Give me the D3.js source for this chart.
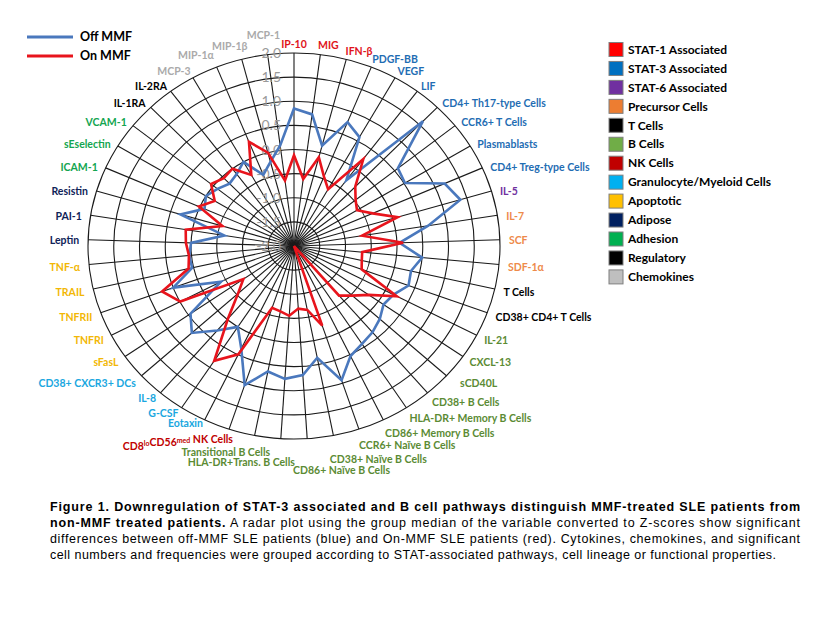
<!DOCTYPE html>
<html>
<head>
<meta charset="UTF-8">
<title>Radar - Off MMF vs On MMF</title>
<script src="https://d3js.org/d3.v7.min.js"></script>
<style>
  body { margin: 0; background: #fff; }
  text { font-family: Lato, "Open Sans", sans-serif; }
  .caption text { font-family: "Liberation Sans", Arial, sans-serif; }
</style>
</head>
<body>
<script>
// ---- data ----
var categories = [
  "IP-10", "MIG", "IFN-\u03b2", "PDGF-BB", "VEGF", "LIF", "CD4+ Th17-type Cells",
  "CCR6+ T Cells", "Plasmablasts", "CD4+ Treg-type Cells", "IL-5", "IL-7", "SCF",
  "SDF-1\u03b1", "T Cells", "CD38+ CD4+ T Cells", "IL-21", "CXCL-13", "sCD40L",
  "CD38+ B Cells", "HLA-DR+ Memory B Cells", "CD86+ Memory B Cells",
  "CCR6+ Na\u00efve B Cells", "CD38+ Na\u00efve B Cells", "CD86+ Na\u00efve B Cells",
  "HLA-DR+Trans. B Cells", "Transitional B Cells", "CD8{lo}CD56{med} NK Cells",
  "Eotaxin", "G-CSF", "IL-8", "CD38+ CXCR3+ DCs", "sFasL", "TNFRI", "TNFRII",
  "TRAIL", "TNF-\u03b1", "Leptin", "PAI-1", "Resistin", "ICAM-1", "sEselectin",
  "VCAM-1", "IL-1RA", "IL-2RA", "MCP-3", "MIP-1\u03b1", "MIP-1\u03b2", "MCP-1"
];

var categoryGroup = [
  "stat1", "stat1", "stat1", "stat3", "stat3", "stat3", "stat3", "stat3", "stat3", "stat3",
  "stat6", "prec", "prec", "prec", "tcell", "tcell",
  "bcell", "bcell", "bcell", "bcell", "bcell", "bcell", "bcell", "bcell", "bcell", "bcell", "bcell",
  "nk", "gran", "gran", "gran", "gran", "apop", "apop", "apop", "apop", "apop",
  "adip", "adip", "adip", "adh", "adh", "adh", "reg", "reg", "chem", "chem", "chem", "chem"
];

var offMMF = [
  0.85, 0.75, 0.15, 0.77, 0.59, -0.30, 1.60, 0.58, 0.52, 1.20,
  1.37, 0.64, 0.05, 0.50, 0.33, 0.37, 0.18, 0.12, 0.25, 0.35,
  0.42, 0.53, 0.93, 0.36, 0.68, 0.76, 0.65, 1.04, 0.36, 0.00,
  0.30, 0.68, 0.45, -0.40, 0.50, 0.03, 0.04, 0.00, -0.63, 0.30,
  -0.10, 0.00, -0.10, -0.20, -0.14, 0.00, -0.41, -0.20, 0.10
];

var onMMF = [
  -0.12, -0.60, -0.10, -0.45, -0.65, 0.25, -0.29, -0.47, -0.57, -0.33,
  0.10, -0.66, 0.12, -0.67, -0.65, -0.60, 0.25, -0.23, -0.47, -0.65,
  -2.00, -2.00, -0.26, -0.65, -0.70, -0.55, -0.62, -0.65, 0.49, 0.84,
  -0.02, -0.53, -0.80, 0.49, 0.73, 0.10, 0.05, 0.10, 0.13, -0.55,
  0.02, -0.20, 0.06, -0.04, 0.00, -0.31, 0.33, 0.00, -0.63
];

var ringTicks = [2.0, 1.5, 1.0, 0.5, 0.0, -0.5, -1.0, -1.5, -2.0];

var legendKeys = ["stat1", "stat3", "stat6", "prec", "tcell", "bcell", "nk", "gran", "apop", "adip", "adh", "reg", "chem"];
var legendNames = ["STAT-1 Associated", "STAT-3 Associated", "STAT-6 Associated", "Precursor Cells",
  "T Cells", "B Cells", "NK Cells", "Granulocyte/Myeloid Cells", "Apoptotic", "Adipose",
  "Adhesion", "Regulatory", "Chemokines"];

var seriesNames = ["Off MMF", "On MMF"];

var captionLines = [
  [["Figure 1. Downregulation of STAT-3 associated and B cell pathways distinguish MMF-treated SLE patients from", true]],
  [["non-MMF treated patients.", true], [" A radar plot using the group median of the variable converted to Z-scores show significant", false]],
  [["differences between off-MMF SLE patients (blue) and On-MMF SLE patients (red). Cytokines, chemokines, and significant", false]],
  [["cell numbers and frequencies were grouped according to STAT-associated pathways, cell lineage or functional properties.", false]]
];

// ---- styles ----
var squareColor = {
  stat1: "#ff0000", stat3: "#0070c0", stat6: "#7030a0", prec: "#ed7d31", tcell: "#000000",
  bcell: "#70ad47", nk: "#c00000", gran: "#00b0f0", apop: "#ffc000", adip: "#002060",
  adh: "#00b050", reg: "#000000", chem: "#bfbfbf"
};
var textColor = {
  stat1: "#e0141c", stat3: "#1f6db3", stat6: "#7030a0", prec: "#ee8a4a", tcell: "#000000",
  bcell: "#5b8b34", nk: "#c00000", gran: "#1aa7e0", apop: "#f2b705", adip: "#0f2358",
  adh: "#13a550", reg: "#000000", chem: "#aaaaaa"
};
var seriesColor = ["#4a78bd", "#e8141c"];

// label nudges for the crowded spots (Excel shuffles these)
var labelNudge = {
  18: [8, 0], 22: [0, -3], 23: [-2, -3], 24: [-11, 0], 25: [11, -8], 26: [14, -10],
  27: [4, -2], 28: [0, -10], 29: [0, -5], 30: [0, -4],
  46: [-2, -4], 47: [5, -5], 48: [10, -10]
};

var W = 832, H = 624;
var cx = 294, cy = 246, rx = 206, ry = 193;
var n = categories.length;

var svg = d3.select("body").append("svg")
  .attr("width", W).attr("height", H)
  .style("background", "#fff");

var rScale = d3.scaleLinear().domain([-2, 2]).range([0, 1]);
var aScale = d3.scaleLinear().domain([0, n]).range([0, 2 * Math.PI]);

function px(i, v) { return cx + rScale(v) * rx * Math.sin(aScale(i)); }
function py(i, v) { return cy - rScale(v) * ry * Math.cos(aScale(i)); }

// grid
var grid = svg.append("g").attr("class", "grid");
grid.selectAll("ellipse")
  .data(ringTicks.filter(function(t) { return t > -2; }))
  .enter().append("ellipse")
  .attr("cx", cx).attr("cy", cy)
  .attr("rx", function(t) { return rScale(t) * rx; })
  .attr("ry", function(t) { return rScale(t) * ry; })
  .attr("fill", "none").attr("stroke", "#1a1a1a").attr("stroke-width", 1.1);

grid.selectAll("line")
  .data(d3.range(n))
  .enter().append("line")
  .attr("x1", cx).attr("y1", cy)
  .attr("x2", function(i) { return px(i, 2); })
  .attr("y2", function(i) { return py(i, 2); })
  .attr("stroke", "#1a1a1a").attr("stroke-width", 1.1);

// tick labels along the top spoke
svg.append("g").selectAll("text")
  .data(ringTicks)
  .enter().append("text")
  .attr("x", cx - 13)
  .attr("y", function(t) { return cy - rScale(t) * ry + 5; })
  .attr("text-anchor", "end")
  .attr("font-size", 14)
  .attr("fill", "#9a9a9a")
  .text(function(t) { return t.toFixed(1); });

// series
var line = d3.line()
  .x(function(d, i) { return px(i, d); })
  .y(function(d, i) { return py(i, d); })
  .curve(d3.curveLinearClosed);

svg.append("g").selectAll("path")
  .data([offMMF, onMMF])
  .enter().append("path")
  .attr("d", line)
  .attr("fill", "none")
  .attr("stroke", function(d, k) { return seriesColor[k]; })
  .attr("stroke-width", 2.6)
  .attr("stroke-linejoin", "miter");

// category labels
var lab = svg.append("g").attr("class", "labels");
categories.forEach(function(name, i) {
  var a = aScale(i), s = Math.sin(a), c = Math.cos(a);
  var x = cx + rx * s, y = cy - ry * c;
  var sg = s > 0 ? 1 : -1;
  var anchor = "middle";
  if (Math.abs(s) > 0.03) {
    anchor = s > 0 ? "start" : "end";
    x += 9 * s - 4 * (1 - Math.abs(s)) * sg;
  }
  if (c > 0) y += -10 * c * c + 1;
  else y += 3 + 10 * c * c + 20 * Math.pow(-c, 20);
  var nd = labelNudge[i] || [0, 0];
  var t = lab.append("text")
    .attr("x", x + nd[0]).attr("y", y + nd[1])
    .attr("dy", "0.35em")
    .attr("text-anchor", anchor)
    .attr("font-size", 10.5)
    .attr("font-weight", "bold")
    .attr("fill", textColor[categoryGroup[i]]);
  // {..} marks superscript pieces
  name.split(/(\{[^}]*\})/).forEach(function(part) {
    if (!part) return;
    if (part[0] === "{") {
      t.append("tspan").attr("font-size", 7).attr("dy", "-0.5em").text(part.slice(1, -1));
      t.append("tspan").attr("dy", "0.5em").text("");
    } else {
      t.append("tspan").text(part);
    }
  });
});

// series legend
var sl = svg.append("g");
seriesNames.forEach(function(s, k) {
  var yy = 37 + k * 19;
  sl.append("line").attr("x1", 27).attr("x2", 73).attr("y1", yy).attr("y2", yy)
    .attr("stroke", seriesColor[k]).attr("stroke-width", 3);
  sl.append("text").attr("x", 80).attr("y", yy).attr("dy", "0.35em")
    .attr("font-size", 12.5).attr("font-weight", "bold").attr("fill", "#000").text(s);
});

// group legend
var lg = svg.append("g");
legendKeys.forEach(function(k, j) {
  var yy = 49.5 + j * 18.95;
  lg.append("rect").attr("x", 609).attr("y", yy - 7).attr("width", 14).attr("height", 14)
    .attr("fill", squareColor[k]).attr("stroke", "#7f7f7f").attr("stroke-width", 1);
  lg.append("text").attr("x", 628).attr("y", yy).attr("dy", "0.35em")
    .attr("font-size", 12).attr("font-weight", "bold").attr("fill", "#000")
    .text(legendNames[j]);
});

// caption
var cap = svg.append("g").attr("class", "caption");
var capLen = [750, 750, 750, 726];
captionLines.forEach(function(parts, li) {
  var t = cap.append("text")
    .attr("x", 50).attr("y", 511 + li * 16)
    .attr("font-size", 12.5).attr("fill", "#000")
    .attr("textLength", capLen[li]).attr("lengthAdjust", "spacing");
  parts.forEach(function(p) {
    t.append("tspan").attr("font-weight", p[1] ? "bold" : "normal").text(p[0]);
  });
});
</script>
</body>
</html>
